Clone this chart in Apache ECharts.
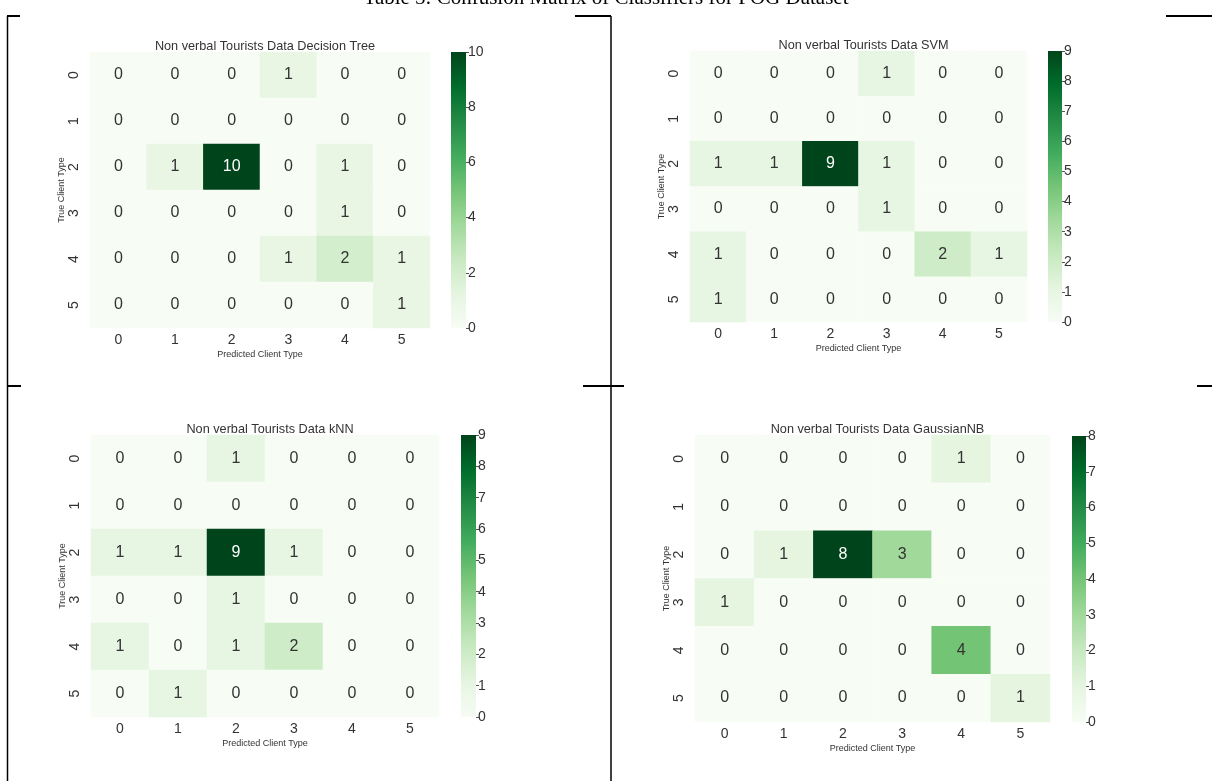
<!DOCTYPE html>
<html>
<head>
<meta charset="utf-8">
<script src="https://cdn.jsdelivr.net/npm/echarts@6/dist/echarts.min.js"></script>
<style>
  html, body { margin: 0; padding: 0; background: #ffffff; }
  #chart { width: 1212px; height: 781px; }
</style>
</head>
<body>
<div id="chart"></div>
<script>
// Class labels shared by both axes
const classLabels = ['0', '1', '2', '3', '4', '5'];

// Confusion matrices: rows = true class, columns = predicted class
const decisionTreeCounts = [
  [0, 0, 0, 1, 0, 0],
  [0, 0, 0, 0, 0, 0],
  [0, 1, 10, 0, 1, 0],
  [0, 0, 0, 0, 1, 0],
  [0, 0, 0, 1, 2, 1],
  [0, 0, 0, 0, 0, 1]
];
const svmCounts = [
  [0, 0, 0, 1, 0, 0],
  [0, 0, 0, 0, 0, 0],
  [1, 1, 9, 1, 0, 0],
  [0, 0, 0, 1, 0, 0],
  [1, 0, 0, 0, 2, 1],
  [1, 0, 0, 0, 0, 0]
];
const knnCounts = [
  [0, 0, 1, 0, 0, 0],
  [0, 0, 0, 0, 0, 0],
  [1, 1, 9, 1, 0, 0],
  [0, 0, 1, 0, 0, 0],
  [1, 0, 1, 2, 0, 0],
  [0, 1, 0, 0, 0, 0]
];
const gaussianNBCounts = [
  [0, 0, 0, 0, 1, 0],
  [0, 0, 0, 0, 0, 0],
  [0, 1, 8, 3, 0, 0],
  [1, 0, 0, 0, 0, 0],
  [0, 0, 0, 0, 4, 0],
  [0, 0, 0, 0, 0, 1]
];

const panelTitles = [
  'Non verbal Tourists Data Decision Tree',
  'Non verbal Tourists Data SVM',
  'Non verbal Tourists Data kNN',
  'Non verbal Tourists Data GaussianNB'
];
const colorbarMax = [10, 9, 9, 8];
const colorbarStep = [2, 1, 1, 1];
const xAxisTitle = 'Predicted Client Type';
const yAxisTitle = 'True Client Type';
const caption = 'Table 5: Confusion Matrix of Classifiers for POG Dataset';

const matrices = [decisionTreeCounts, svmCounts, knnCounts, gaussianNBCounts];

// Sequential "Greens" palette
const greens = ['#f7fcf5', '#e5f5e0', '#c7e9c0', '#a1d99b', '#74c476',
                '#41ab5d', '#238b45', '#006d2c', '#00441b'];

// Panel geometry: heatmap box and colour bar box
const layout = [
  { hm: [90, 52, 340, 276],  cb: [451, 52, 15, 276] },
  { hm: [690, 51, 337, 271], cb: [1048, 51, 14, 271] },
  { hm: [91, 435, 348, 282], cb: [461, 435, 15, 282] },
  { hm: [695, 435, 355, 287], cb: [1072, 436, 14, 286] }
];

const FONT = 'Liberation Sans, Arial, sans-serif';
const TEXT = '#333333';

const grids = [], xAxes = [], yAxes = [], series = [], visualMaps = [], titles = [];

matrices.forEach((m, i) => {
  const L = layout[i];
  const vmax = colorbarMax[i];

  // heatmap grid
  grids.push({ left: L.hm[0], top: L.hm[1], width: L.hm[2], height: L.hm[3], containLabel: false });
  const hmIndex = grids.length - 1;
  xAxes.push({
    gridIndex: hmIndex, type: 'category', data: classLabels, position: 'bottom',
    axisLine: { show: false }, axisTick: { show: false }, splitLine: { show: false },
    axisLabel: { fontSize: 14, color: TEXT, fontFamily: FONT, margin: 5 },
    name: xAxisTitle, nameLocation: 'middle', nameGap: 22,
    nameTextStyle: { fontSize: 9, color: TEXT, fontFamily: FONT }
  });
  yAxes.push({
    gridIndex: hmIndex, type: 'category', data: classLabels, inverse: true,
    axisLine: { show: false }, axisTick: { show: false }, splitLine: { show: false },
    axisLabel: { fontSize: 14, color: TEXT, fontFamily: FONT, rotate: 90, margin: 9 },
    name: yAxisTitle, nameLocation: 'middle', nameGap: 23, nameRotate: 90,
    nameTextStyle: { fontSize: 9, color: TEXT, fontFamily: FONT }
  });

  const data = [];
  m.forEach((row, r) => row.forEach((v, c) => {
    data.push({
      value: [c, r, v],
      label: { color: v / vmax > 0.7 ? '#ffffff' : TEXT }
    });
  }));
  series.push({
    type: 'heatmap', xAxisIndex: xAxes.length - 1, yAxisIndex: yAxes.length - 1,
    data: data,
    label: { show: true, fontSize: 16, fontFamily: FONT, formatter: p => String(p.value[2]) },
    itemStyle: { borderWidth: 0 },
    emphasis: { disabled: true }
  });
  visualMaps.push({
    type: 'continuous', show: false, min: 0, max: vmax, dimension: 2,
    seriesIndex: series.length - 1, inRange: { color: greens }
  });

  titles.push({
    text: panelTitles[i], left: L.hm[0] + L.hm[2] / 2, top: L.hm[1] - 17, textAlign: 'center',
    textStyle: { fontSize: 12.7, fontWeight: 'normal', color: TEXT, fontFamily: FONT }
  });

  // colour bar: gradient-filled grid with a value axis on its right
  const stops = greens.map((c, k) => ({ offset: k / (greens.length - 1), color: c }));
  grids.push({
    left: L.cb[0], top: L.cb[1], width: L.cb[2], height: L.cb[3],
    show: true, borderWidth: 0,
    backgroundColor: new echarts.graphic.LinearGradient(0, 1, 0, 0, stops)
  });
  const cbIndex = grids.length - 1;
  xAxes.push({ gridIndex: cbIndex, type: 'value', show: false, min: 0, max: 1 });
  yAxes.push({
    gridIndex: cbIndex, type: 'value', position: 'right', min: 0, max: vmax,
    interval: colorbarStep[i],
    axisLine: { show: false, onZero: false }, splitLine: { show: false },
    axisTick: { show: true, length: 3, inside: false, lineStyle: { color: '#555555', width: 1 } },
    axisLabel: { fontSize: 14, color: TEXT, fontFamily: FONT, margin: 2 }
  });
});

// table rules around the panels
const rule = { stroke: '#000000', lineWidth: 1.5 };
const stub = { stroke: '#000000', lineWidth: 2 };
const graphics = [
  { type: 'text', left: 'center', top: -12,
    style: { text: caption, font: '21px "Liberation Serif", "Times New Roman", serif', fill: '#000000' } },
  { type: 'line', shape: { x1: 7.5, y1: 16, x2: 7.5, y2: 781 }, style: rule },
  { type: 'line', shape: { x1: 611, y1: 16, x2: 611, y2: 781 }, style: rule },
  { type: 'line', shape: { x1: 7, y1: 16, x2: 20, y2: 16 }, style: stub },
  { type: 'line', shape: { x1: 575, y1: 16, x2: 611, y2: 16 }, style: stub },
  { type: 'line', shape: { x1: 1166, y1: 16, x2: 1212, y2: 16 }, style: stub },
  { type: 'line', shape: { x1: 7, y1: 386, x2: 21, y2: 386 }, style: stub },
  { type: 'line', shape: { x1: 583, y1: 386, x2: 624, y2: 386 }, style: stub },
  { type: 'line', shape: { x1: 1197, y1: 386, x2: 1212, y2: 386 }, style: stub }
];

const chart = echarts.init(document.getElementById('chart'), null, { renderer: 'canvas' });
chart.setOption({
  backgroundColor: '#ffffff',
  animation: false,
  title: titles,
  grid: grids,
  xAxis: xAxes,
  yAxis: yAxes,
  visualMap: visualMaps,
  series: series,
  graphic: graphics
});
</script>
</body>
</html>
